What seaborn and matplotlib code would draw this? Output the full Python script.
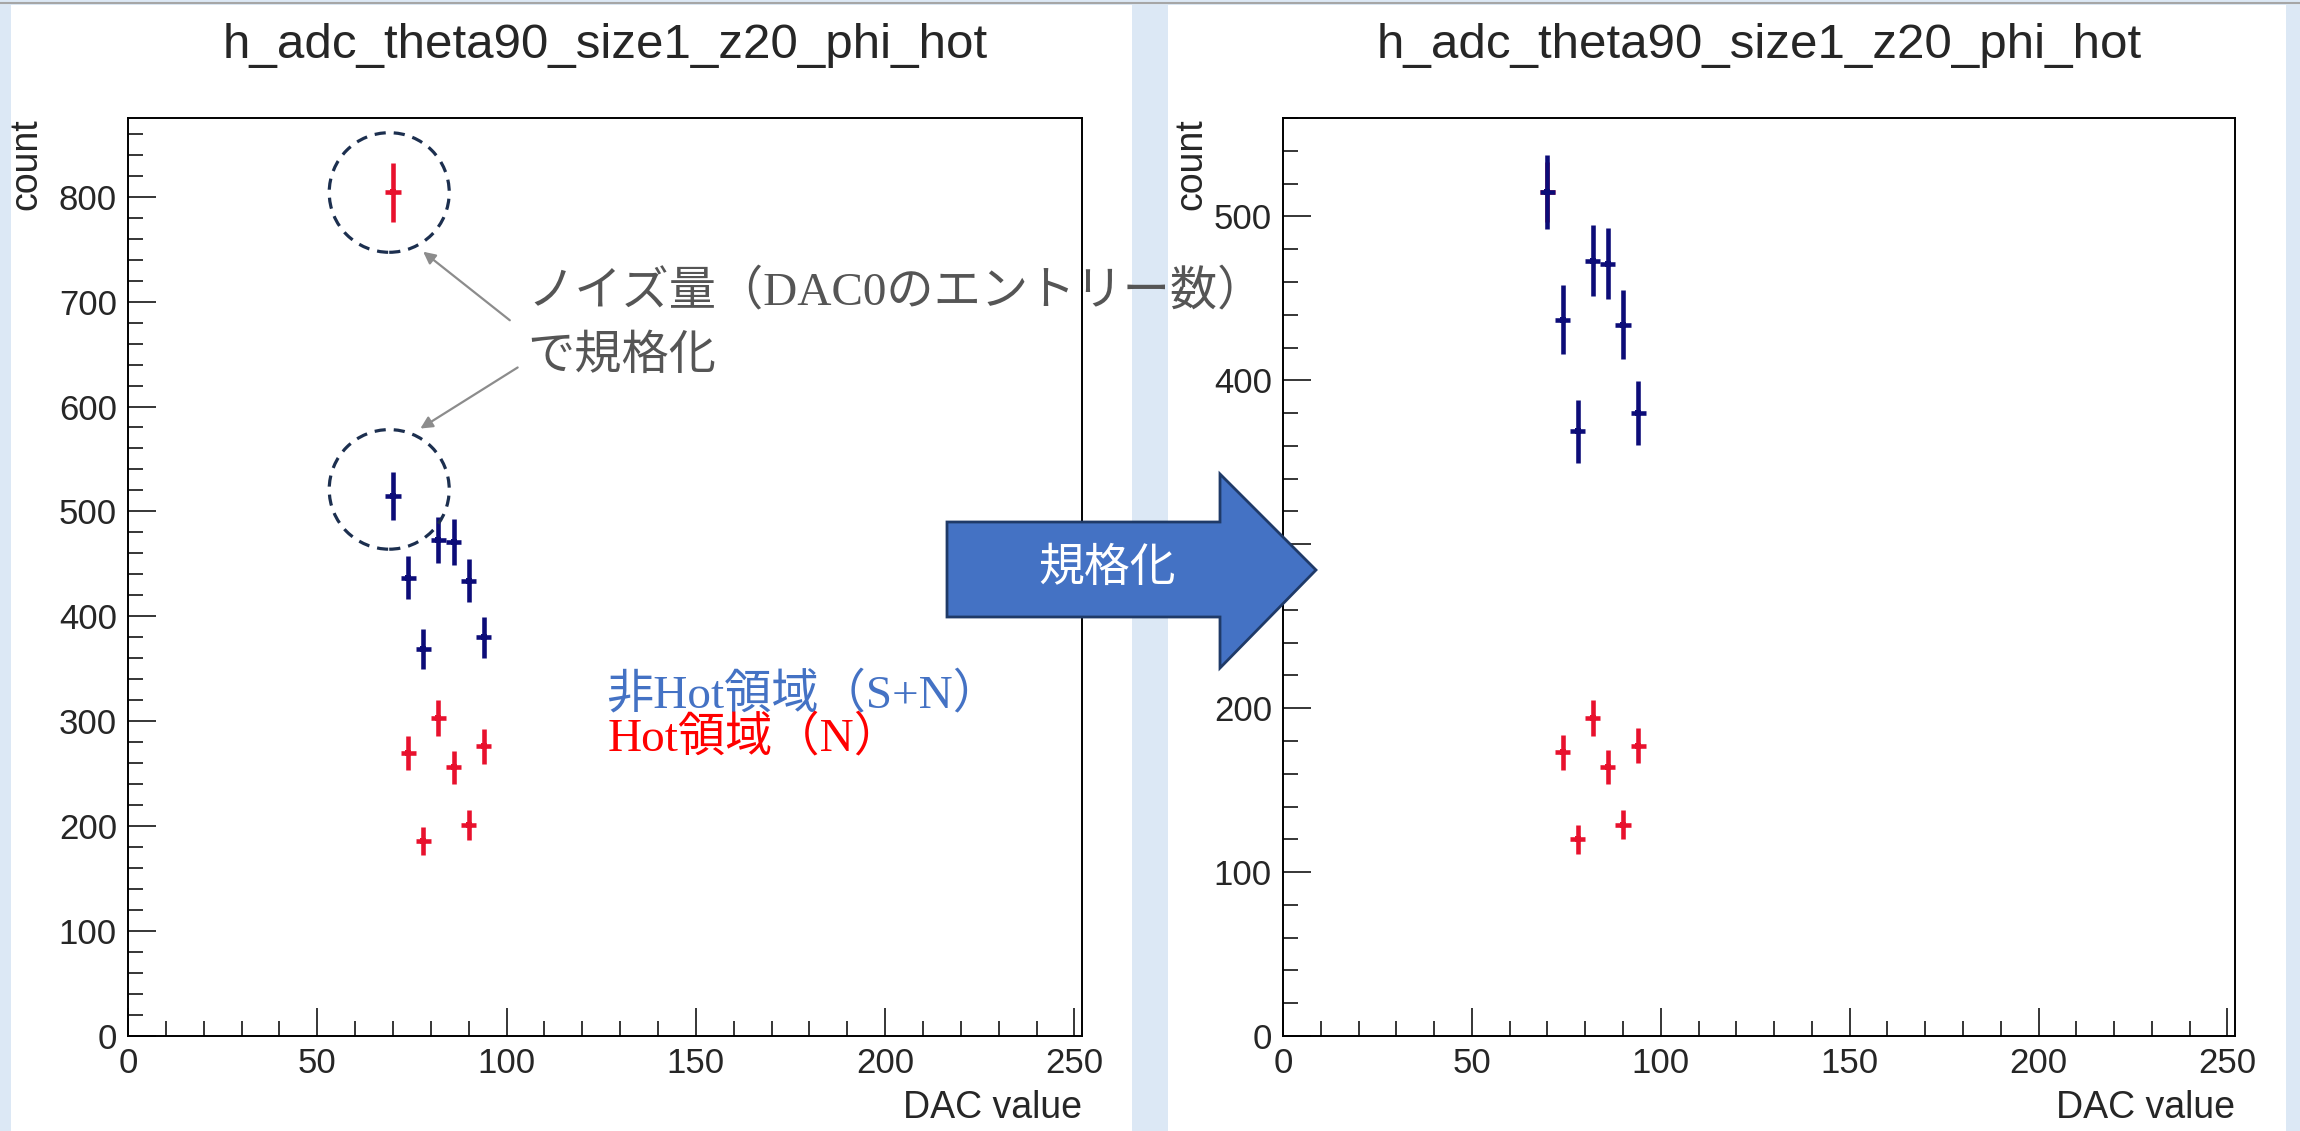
import numpy as np
import pandas as pd
import matplotlib
matplotlib.use("Agg")
import matplotlib.pyplot as plt
import seaborn as sns
from matplotlib.patches import Ellipse, Polygon, Rectangle, FancyArrowPatch
from matplotlib.lines import Line2D
from matplotlib.ticker import MultipleLocator

# ---- data ----
dac = [70, 74, 78, 82, 86, 90, 94]
bin_half = [2, 2, 2, 2, 2, 2, 2]
# 非Hot領域 (S+N)
sn_count = [515, 437, 369, 473, 471, 434, 380]
sn_err = [22.7, 20.9, 19.2, 21.7, 21.7, 20.8, 19.5]
# Hot領域 (N), raw
n_count = [804, 270, 186, 303, 256, 201, 276]
n_err = [28.4, 16.4, 13.6, 17.4, 16.0, 14.2, 16.6]
# Hot領域 (N), after normalisation
n_norm = [515, 173, 120, 194, 164, 129, 177]
n_norm_err = [18.2, 10.5, 8.7, 11.1, 10.2, 9.1, 10.6]

title = "h_adc_theta90_size1_z20_phi_hot"
xlabel = "DAC value"
ylabel = "count"

NAVY = "#0c0c78"
RED = "#e8112d"
W, H = 2300, 1131


def fx(x):
    return x / W


def fy(y):
    return 1 - y / H


def draw_hist(ax, noise, noise_err, ymax):
    df = pd.DataFrame({"dac": dac, "sn": sn_count, "n": noise})
    for col, err, c in [("n", noise_err, RED), ("sn", sn_err, NAVY)]:
        ax.errorbar(df["dac"], df[col], xerr=bin_half, yerr=err, fmt="none",
                    ecolor=c, elinewidth=3.3, capsize=0, zorder=3)
        sns.scatterplot(data=df, x="dac", y=col, color=c, s=14, marker="s",
                        linewidth=0, ax=ax, zorder=4)
    ax.set_xlim(0, 252)
    ax.set_ylim(0, ymax)
    ax.set_xlabel("")
    ax.set_ylabel("")
    ax.xaxis.set_major_locator(MultipleLocator(50))
    ax.xaxis.set_minor_locator(MultipleLocator(10))
    ax.yaxis.set_major_locator(MultipleLocator(100))
    ax.yaxis.set_minor_locator(MultipleLocator(20))
    ax.tick_params(which="both", direction="in", top=False, right=False,
                   labelsize=25, pad=8, color="black")
    ax.tick_params(which="major", length=20, width=1.1)
    ax.tick_params(which="minor", length=10.5, width=1.1)
    for s in ax.spines.values():
        s.set_linewidth(1.4)
        s.set_color("black")
        s.set_visible(True)


sns.set_style("ticks")
plt.rcParams["font.family"] = ["Liberation Sans", "Noto Sans CJK JP"]

fig = plt.figure(figsize=(23, 11.31), dpi=100)
fig.patch.set_facecolor("#dce8f5")

# white slide panels + grey top rule
for x0, x1 in [(11, 1132), (1168, 2286)]:
    fig.add_artist(Rectangle((fx(x0), 0), (x1 - x0) / W, fy(5), transform=fig.transFigure,
                             facecolor="white", edgecolor="none", zorder=-10))
fig.add_artist(Line2D([0, 1], [fy(3), fy(3)], transform=fig.transFigure,
                      color="#a6a6a6", lw=1.5))

ax1 = fig.add_axes([fx(128), fy(1036), 954 / W, 918 / H])
ax2 = fig.add_axes([fx(1283), fy(1036), 952 / W, 918 / H])
draw_hist(ax1, n_count, n_err, 875)
draw_hist(ax2, n_norm, n_norm_err, 560)

# ROOT-style titles and axis labels
for left, right, ylab_x in [(128, 1082, 26), (1283, 2235, 1191)]:
    fig.text(fx((left + right) / 2), fy(58), title, ha="center", va="baseline", fontsize=35.5)
    fig.text(fx(ylab_x), fy(118), ylabel, rotation=90, ha="center", va="top", fontsize=27)
    fig.text(fx(right), fy(1118), xlabel, ha="right", va="baseline", fontsize=27)

# dashed circles around the DAC0 entries
for yc in [n_count[0], sn_count[0] + 6]:
    ax1.add_patch(Ellipse((dac[0] - 1, yc), width=31.7, height=114, fill=False,
                          edgecolor="#1c2f4f", lw=2.3, linestyle=(0, (3.5, 2.5)),
                          clip_on=False, zorder=5))

# grey pointer arrows
for p0, p1 in [((512, 322), (421, 250)), ((520, 366), (418, 430))]:
    fig.add_artist(FancyArrowPatch((fx(p0[0]), fy(p0[1])), (fx(p1[0]), fy(p1[1])),
                                   transform=fig.transFigure, arrowstyle="-|>",
                                   mutation_scale=18, color="#8c8c8c", lw=1.6, zorder=6))

jp = ["Liberation Serif", "Noto Sans CJK JP"]
fig.text(fx(527), fy(292), "ノイズ量（DAC0のエントリー数）", family=jp, fontsize=34,
         color="#555555", ha="left", va="center", zorder=6)
fig.text(fx(527), fy(357), "で規格化", family=jp, fontsize=34,
         color="#555555", ha="left", va="center", zorder=6)
fig.text(fx(606), fy(695), "非Hot領域（S+N）", family=jp, fontsize=34,
         color="#4472c4", ha="left", va="center", zorder=6)
fig.text(fx(608), fy(738), "Hot領域（N）", family=jp, fontsize=34,
         color="#ff0000", ha="left", va="center", zorder=6)

# big block arrow
pts = [(947, 522), (1220, 522), (1220, 474), (1316, 570), (1220, 668), (1220, 617), (947, 617)]
fig.add_artist(Polygon([(fx(x), fy(y)) for x, y in pts], closed=True, transform=fig.transFigure,
                       facecolor="#4472c4", edgecolor="#1f3a68", lw=2, zorder=7))
fig.text(fx(1107), fy(568), "規格化", family=["Noto Sans CJK JP"], fontsize=33,
         color="white", ha="center", va="center", zorder=8)

fig.savefig("out.png", dpi=100, facecolor=fig.get_facecolor())
